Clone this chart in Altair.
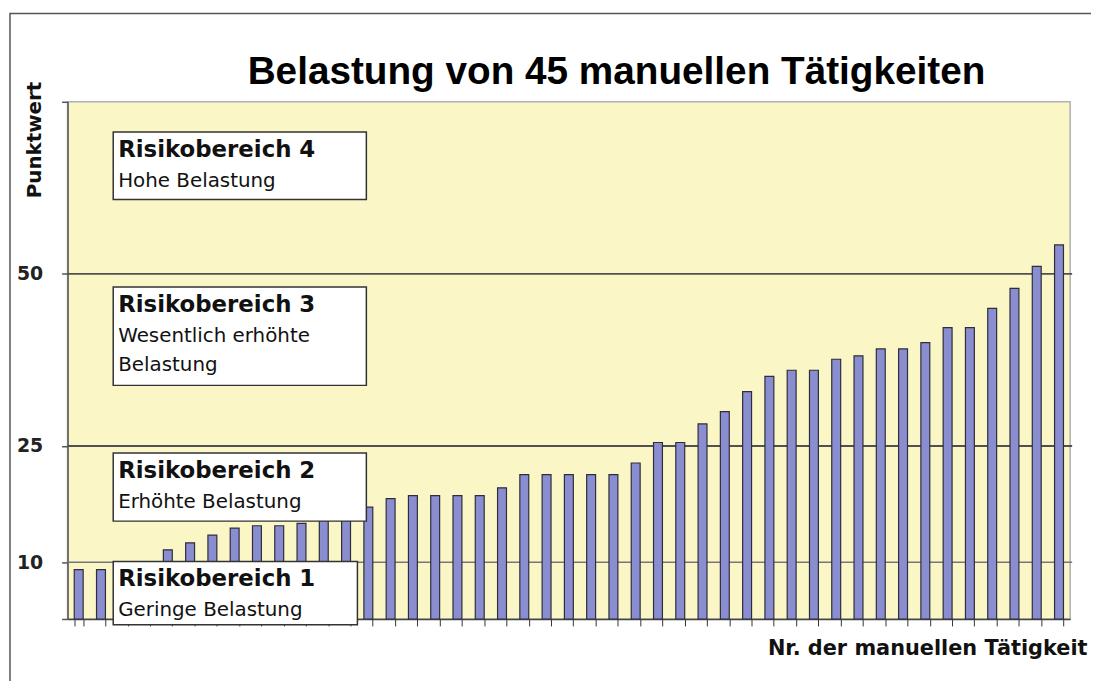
import altair as alt
import pandas as pd

# ---- data ----
nr = list(range(1, 46))
punktwert = [8.7, 8.7, 9.2, 9.5, 11.6, 12.5, 13.5, 14.4, 14.7, 14.7,
             15.0, 15.6, 16.2, 17.1, 18.2, 18.6, 18.6, 18.6, 18.6, 19.6,
             21.3, 21.3, 21.3, 21.3, 21.3, 22.8, 25.5, 25.5, 28.2, 30.0,
             32.9, 35.1, 36.0, 36.0, 37.6, 38.1, 39.1, 39.1, 40.0, 42.2,
             42.2, 45.0, 47.9, 51.1, 54.2]
grenzwerte = [10, 25, 50]
achsen_werte = [0, 10, 25, 50, 75]
bereich_stufe = [4, 3, 2, 1]
bereich_titel = ["Risikobereich 4", "Risikobereich 3", "Risikobereich 2", "Risikobereich 1"]
bereich_text = ["Hohe Belastung", "Wesentlich erhöhte\nBelastung", "Erhöhte Belastung", "Geringe Belastung"]
bereich_oben = [70.6, 48.1, 24.1, 10.1]
bereich_unten = [60.8, 33.8, 15.3, -1.0]
titel = "Belastung von 45 manuellen Tätigkeiten"

W, H = 1010, 521

bars_df = pd.DataFrame({"nr": nr, "wert": punktwert})
rules_df = pd.DataFrame({"wert": grenzwerte})
box_df = pd.DataFrame({"stufe": bereich_stufe, "titel": bereich_titel, "text": bereich_text,
                       "oben": bereich_oben, "unten": bereich_unten})
one_df = pd.DataFrame({"a": [0]})

yscale = alt.Scale(domain=[0, 10, 25, 75], range=[H, 463.8, 346.7, 0], nice=False, zero=False)
yaxis = alt.Axis(
    values=achsen_werte,
    labelExpr="(datum.value==10||datum.value==25||datum.value==50) ? datum.label : ''",
    grid=False, domainColor="#555", domainWidth=1.5,
    tickColor="#555", tickSize=6, tickWidth=1.5,
    labelFont="DejaVu Sans", labelFontWeight="bold", labelFontSize=19, labelColor="#222",
    labelPadding=19,
    title="Punktwert", titleFont="DejaVu Sans", titleFontSize=20, titleFontWeight="bold",
    titleColor="#111", titleAngle=270, titleX=-33, titleY=38, titleAlign="center",
    titleBaseline="middle",
)


def ydef(field):
    return alt.Y(f"{field}:Q", scale=yscale, axis=yaxis)


xaxis = alt.Axis(
    labels=False, tickBand="extent", ticks=True, tickSize=7, tickColor="#333", tickWidth=1,
    domainColor="#444", domainWidth=1.5,
    title="Nr. der manuellen Tätigkeit", titleFont="DejaVu Sans", titleFontSize=21,
    titleFontWeight="bold", titleX=1027, titleY=36, titleAlign="right",
    titleBaseline="alphabetic", titleColor="#111",
)

frame = alt.Chart(one_df).mark_rect(fillOpacity=0, stroke="#555", strokeWidth=1.5).encode(
    x=alt.value(-58), x2=alt.value(1200), y=alt.value(-89), y2=alt.value(700)
)

title_mark = alt.Chart(one_df).mark_text(
    font="Liberation Sans", fontSize=39, fontWeight="bold", align="center",
    baseline="alphabetic", color="#000"
).encode(x=alt.value(553), y=alt.value(-18), text=alt.value(titel))

rules = alt.Chart(rules_df).mark_rule().encode(
    y=ydef("wert"), x=alt.value(0), x2=alt.value(1012),
    strokeWidth=alt.condition(alt.datum.wert == 10, alt.value(1.5), alt.value(2)),
    color=alt.condition(alt.datum.wert == 10, alt.value("#777"), alt.value("#505050")),
)

bars = alt.Chart(bars_df).mark_bar(fill="#8A8DD0", stroke="#2e2e3a", strokeWidth=1.2).encode(
    x=alt.X("nr:O", axis=xaxis, scale=alt.Scale(paddingInner=0.6, paddingOuter=0.3)),
    y=ydef("wert"),
)

box_base = alt.Chart(box_df).mark_rect(fill="white", stroke="#333", strokeWidth=1.5)
boxes_upper = box_base.transform_filter(alt.datum.stufe > 1).encode(
    x=alt.value(46), x2=alt.value(301), y=ydef("oben"), y2="unten:Q",
)
box_lower = box_base.transform_filter(alt.datum.stufe == 1).encode(
    x=alt.value(46), x2=alt.value(292), y=ydef("oben"), y2="unten:Q",
)

heads = alt.Chart(box_df).mark_text(
    align="left", baseline="alphabetic", dy=25, font="DejaVu Sans", fontSize=23,
    fontWeight="bold", color="#111"
).encode(x=alt.value(51), y=ydef("oben"), text="titel:N")

subs = alt.Chart(box_df).mark_text(
    align="left", baseline="alphabetic", dy=55, font="DejaVu Sans", fontSize=20,
    color="#111", lineBreak="\n", lineHeight=30
).encode(x=alt.value(51), y=ydef("oben"), text="text:N")

chart = alt.layer(frame, title_mark, rules, bars, boxes_upper, box_lower, heads, subs).properties(
    width=W, height=H,
    autosize=alt.AutoSizeParams(type="none"),
    padding={"left": 60, "top": 92, "right": 21, "bottom": 60},
    background="white",
).configure_view(fill="#FAF6C6", stroke="#B0B0B0", strokeWidth=1.5)

chart.save("out.html", embed_options={"renderer": "svg", "actions": False})
